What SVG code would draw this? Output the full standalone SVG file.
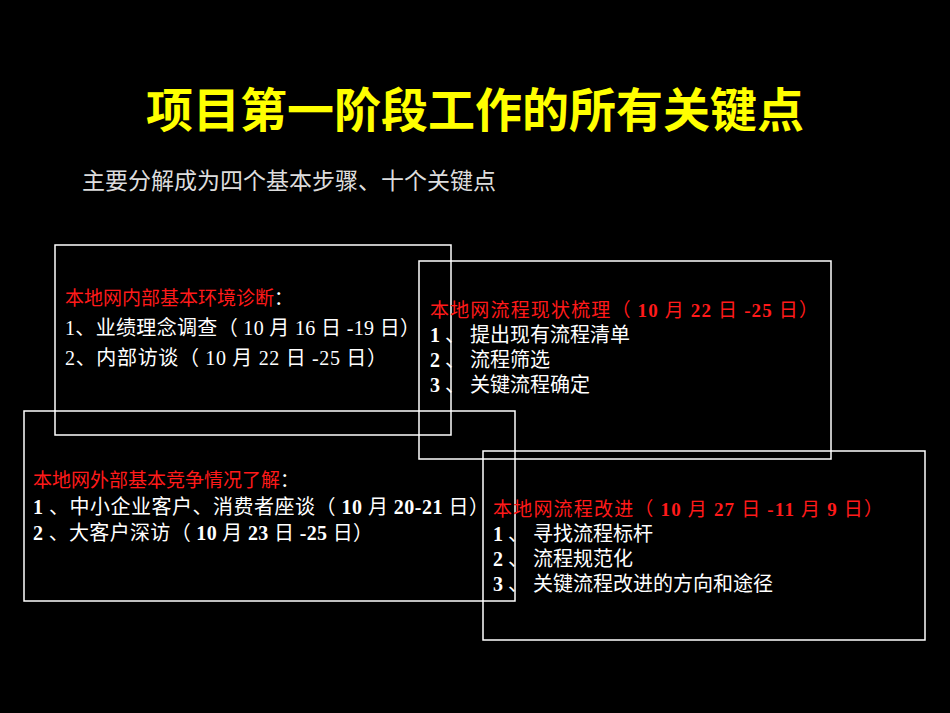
<svg xmlns="http://www.w3.org/2000/svg" width="950" height="713" viewBox="0 0 950 713">
<style>
.box{fill:none;stroke:#fff;stroke-width:1.5}
.t{font-family:"Liberation Serif","Noto Sans CJK SC",serif;fill:#fff;font-size:20px}
.r{fill:#ff1a1a;font-size:19px}
.b{font-weight:bold}
</style>
<rect width="950" height="713" fill="#000"/>
<text x="475" y="127" text-anchor="middle" font-family="Liberation Sans,'Noto Sans CJK SC',sans-serif" font-weight="bold" font-size="47" fill="#ffff00">项目第一阶段工作的所有关键点</text>
<text x="82" y="189" font-family="Liberation Serif,'Noto Sans CJK SC',serif" font-size="23" fill="#ddd">主要分解成为四个基本步骤、十个关键点</text>
<g id="n1"><rect class="box" x="55" y="245" width="396" height="190"/>
<text class="t r" x="65" y="305">本地网内部基本环境诊断<tspan fill="#fff">：</tspan></text>
<text class="t" x="65" y="335" textLength="355">1、业绩理念调查（ 10 月 16 日 -19 日）</text>
<text class="t" x="65" y="365" textLength="322">2、内部访谈（ 10 月 22 日 -25 日）</text></g>
<g id="n2"><rect class="box" x="419" y="261" width="412" height="198"/>
<text class="t r" x="430" y="317" textLength="388">本地网流程现状梳理（ <tspan class="b">10</tspan> 月 <tspan class="b">22</tspan> 日 <tspan class="b">-25</tspan> 日）</text>
<text class="t" x="430" y="342"><tspan class="b">1</tspan> 、 提出现有流程清单</text>
<text class="t" x="430" y="367"><tspan class="b">2</tspan> 、 流程筛选</text>
<text class="t" x="430" y="392"><tspan class="b">3</tspan> 、 关键流程确定</text></g>
<g id="n3"><rect class="box" x="24" y="411" width="491" height="190"/>
<text class="t r" x="33" y="487">本地网外部基本竞争情况了解<tspan fill="#fff">：</tspan></text>
<text class="t" x="33" y="514" textLength="456"><tspan class="b">1</tspan> 、中小企业客户、消费者座谈（ <tspan class="b">10</tspan> 月 <tspan class="b">20-21</tspan> 日）</text>
<text class="t" x="33" y="540" textLength="340"><tspan class="b">2</tspan> 、大客户深访（ <tspan class="b">10</tspan> 月 <tspan class="b">23</tspan> 日 <tspan class="b">-25</tspan> 日）</text></g>
<g id="n4"><rect class="box" x="483" y="451" width="442" height="189"/>
<text class="t r" x="493" y="516" textLength="390">本地网流程改进（ <tspan class="b">10</tspan> 月 <tspan class="b">27</tspan> 日 <tspan class="b">-11</tspan> 月 <tspan class="b">9</tspan> 日）</text>
<text class="t" x="493" y="541"><tspan class="b">1</tspan> 、 寻找流程标杆</text>
<text class="t" x="493" y="566"><tspan class="b">2</tspan> 、 流程规范化</text>
<text class="t" x="493" y="591"><tspan class="b">3</tspan> 、 关键流程改进的方向和途径</text></g>
<g id="connectors"/>
</svg>
